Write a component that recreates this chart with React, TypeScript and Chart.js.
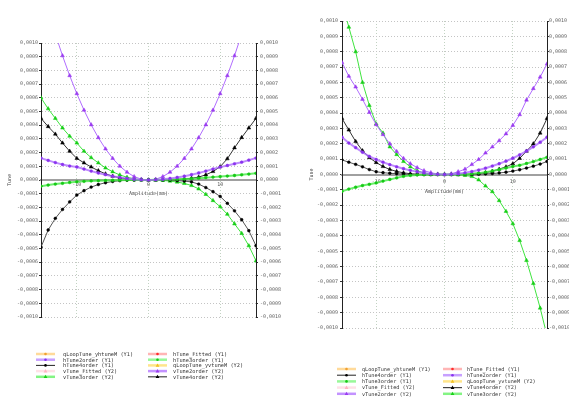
import React, { useEffect, useRef } from 'react';
import { Chart, registerables } from 'chart.js';

Chart.register(...registerables);

// ---------- data ----------
const amplitude = [-15, -14, -13, -12, -11, -10, -9, -8, -7, -6, -5, -4, -3, -2, -1, 0, 1, 2, 3, 4, 5, 6, 7, 8, 9, 10, 11, 12, 13, 14, 15];
const xTickValues = [-10, 0, 10];

// left panel
const leftHTune2order = [0.16e-3, 0.143e-3, 0.127e-3, 0.113e-3, 0.102e-3, 0.095e-3, 0.08e-3, 0.065e-3, 0.051e-3, 0.039e-3, 0.028e-3, 0.019e-3, 0.011e-3, 0.005e-3, 0.001e-3, 0, 0.001e-3, 0.005e-3, 0.011e-3, 0.019e-3, 0.028e-3, 0.039e-3, 0.051e-3, 0.065e-3, 0.08e-3, 0.094e-3, 0.106e-3, 0.118e-3, 0.13e-3, 0.145e-3, 0.16e-3];
const leftHTune3order = [-0.045e-3, -0.037e-3, -0.03e-3, -0.024e-3, -0.018e-3, -0.013e-3, -0.01e-3, -0.007e-3, -0.005e-3, -0.003e-3, -0.002e-3, -0.001e-3, 0, 0, 0, 0, 0.001e-3, 0.002e-3, 0.003e-3, 0.005e-3, 0.007e-3, 0.01e-3, 0.013e-3, 0.017e-3, 0.021e-3, 0.025e-3, 0.029e-3, 0.033e-3, 0.038e-3, 0.043e-3, 0.049e-3];
const leftHTune4order = [-0.49e-3, -0.365e-3, -0.28e-3, -0.215e-3, -0.16e-3, -0.11e-3, -0.078e-3, -0.052e-3, -0.033e-3, -0.02e-3, -0.011e-3, -0.005e-3, -0.002e-3, -0.001e-3, 0, 0, 0, 0, -0.002e-3, -0.005e-3, -0.008e-3, -0.014e-3, -0.03e-3, -0.055e-3, -0.085e-3, -0.12e-3, -0.17e-3, -0.225e-3, -0.29e-3, -0.37e-3, -0.48e-3];
const leftVTune2order = [1.418e-3, 1.235e-3, 1.065e-3, 0.907e-3, 0.762e-3, 0.63e-3, 0.51e-3, 0.403e-3, 0.309e-3, 0.227e-3, 0.158e-3, 0.101e-3, 0.057e-3, 0.025e-3, 0.006e-3, 0, 0.006e-3, 0.025e-3, 0.057e-3, 0.101e-3, 0.158e-3, 0.227e-3, 0.309e-3, 0.403e-3, 0.51e-3, 0.63e-3, 0.762e-3, 0.907e-3, 1.065e-3, 1.235e-3, 1.418e-3];
const leftVTune3order = [0.6e-3, 0.52e-3, 0.45e-3, 0.38e-3, 0.32e-3, 0.27e-3, 0.21e-3, 0.163e-3, 0.125e-3, 0.088e-3, 0.06e-3, 0.037e-3, 0.02e-3, 0.009e-3, 0.002e-3, 0, -0.001e-3, -0.003e-3, -0.008e-3, -0.015e-3, -0.025e-3, -0.04e-3, -0.065e-3, -0.105e-3, -0.15e-3, -0.195e-3, -0.25e-3, -0.32e-3, -0.39e-3, -0.48e-3, -0.59e-3];
const leftVTune4order = [0.45e-3, 0.39e-3, 0.335e-3, 0.27e-3, 0.21e-3, 0.158e-3, 0.125e-3, 0.095e-3, 0.068e-3, 0.045e-3, 0.028e-3, 0.016e-3, 0.008e-3, 0.003e-3, 0.001e-3, 0, 0, 0.001e-3, 0.002e-3, 0.004e-3, 0.008e-3, 0.013e-3, 0.021e-3, 0.038e-3, 0.062e-3, 0.097e-3, 0.155e-3, 0.235e-3, 0.31e-3, 0.38e-3, 0.45e-3];

// right panel
const rightHTune2order = [0.243e-3, 0.205e-3, 0.175e-3, 0.145e-3, 0.118e-3, 0.098e-3, 0.08e-3, 0.064e-3, 0.05e-3, 0.038e-3, 0.027e-3, 0.018e-3, 0.01e-3, 0.004e-3, 0.001e-3, 0, 0.001e-3, 0.005e-3, 0.011e-3, 0.019e-3, 0.029e-3, 0.041e-3, 0.055e-3, 0.07e-3, 0.087e-3, 0.106e-3, 0.128e-3, 0.153e-3, 0.18e-3, 0.21e-3, 0.243e-3];
const rightHTune3order = [-0.11e-3, -0.095e-3, -0.083e-3, -0.072e-3, -0.064e-3, -0.055e-3, -0.043e-3, -0.032e-3, -0.022e-3, -0.012e-3, -0.006e-3, -0.003e-3, -0.001e-3, 0, 0, 0, 0, 0.001e-3, 0.002e-3, 0.005e-3, 0.009e-3, 0.015e-3, 0.023e-3, 0.032e-3, 0.042e-3, 0.052e-3, 0.06e-3, 0.072e-3, 0.084e-3, 0.098e-3, 0.112e-3];
const rightHTune4order = [0.095e-3, 0.08e-3, 0.066e-3, 0.05e-3, 0.032e-3, 0.018e-3, 0.012e-3, 0.008e-3, 0.005e-3, 0.003e-3, 0.001e-3, 0, 0, 0, 0, 0, 0, 0, 0, 0.001e-3, 0.002e-3, 0.004e-3, 0.006e-3, 0.01e-3, 0.015e-3, 0.022e-3, 0.031e-3, 0.042e-3, 0.054e-3, 0.068e-3, 0.085e-3];
const rightVTune2order = [0.73e-3, 0.64e-3, 0.57e-3, 0.49e-3, 0.405e-3, 0.325e-3, 0.26e-3, 0.2e-3, 0.15e-3, 0.105e-3, 0.07e-3, 0.045e-3, 0.025e-3, 0.012e-3, 0.003e-3, 0, 0.005e-3, 0.018e-3, 0.035e-3, 0.065e-3, 0.098e-3, 0.14e-3, 0.18e-3, 0.22e-3, 0.265e-3, 0.32e-3, 0.39e-3, 0.485e-3, 0.56e-3, 0.635e-3, 0.72e-3];
const rightVTune3order = [1.12e-3, 0.96e-3, 0.8e-3, 0.6e-3, 0.45e-3, 0.33e-3, 0.27e-3, 0.18e-3, 0.13e-3, 0.085e-3, 0.05e-3, 0.025e-3, 0.01e-3, 0.003e-3, 0.001e-3, 0, 0, -0.002e-3, -0.006e-3, -0.013e-3, -0.035e-3, -0.075e-3, -0.112e-3, -0.17e-3, -0.24e-3, -0.32e-3, -0.43e-3, -0.56e-3, -0.71e-3, -0.87e-3, -1.05e-3];
const rightVTune4order = [0.365e-3, 0.29e-3, 0.215e-3, 0.155e-3, 0.11e-3, 0.078e-3, 0.052e-3, 0.033e-3, 0.02e-3, 0.011e-3, 0.005e-3, 0.002e-3, 0.001e-3, 0, 0, 0, 0, 0, 0.001e-3, 0.003e-3, 0.006e-3, 0.012e-3, 0.021e-3, 0.035e-3, 0.05e-3, 0.07e-3, 0.105e-3, 0.152e-3, 0.2e-3, 0.27e-3, 0.365e-3];

const seriesNames = [
  'qLoopTune_yhtuneM (Y1)', 'hTune_Fitted (Y1)', 'hTune2order (Y1)', 'hTune3order (Y1)', 'hTune4order (Y1)',
  'qLoopTune_yvtuneM (Y2)', 'vTune_Fitted (Y2)', 'vTune2order (Y2)', 'vTune3order (Y2)', 'vTune4order (Y2)',
];

const leftLegendColumns = [
  ['qLoopTune_yhtuneM (Y1)', 'hTune2order (Y1)', 'hTune4order (Y1)', 'vTune_Fitted (Y2)', 'vTune3order (Y2)'],
  ['hTune_Fitted (Y1)', 'hTune3order (Y1)', 'qLoopTune_yvtuneM (Y2)', 'vTune2order (Y2)', 'vTune4order (Y2)'],
];
const rightLegendColumns = [
  ['qLoopTune_yhtuneM (Y1)', 'hTune4order (Y1)', 'hTune3order (Y1)', 'vTune_Fitted (Y2)', 'vTune2order (Y2)'],
  ['hTune_Fitted (Y1)', 'hTune2order (Y1)', 'qLoopTune_yvtuneM (Y2)', 'vTune4order (Y2)', 'vTune3order (Y2)'],
];

// ---------- styles ----------
const MONO = '"DejaVu Sans Mono", monospace';
type Style = { line: string; width: number; marker: 'circle' | 'triangle'; color: string; radius: number; axis: 'y' | 'y2'; legLine: string; legWidth: number };
const STYLES: Record<string, Style> = {
  'qLoopTune_yhtuneM (Y1)': { line: 'rgba(255,200,110,0.7)', width: 2, marker: 'circle', color: '#f0a030', radius: 1.3, axis: 'y', legLine: 'rgba(255,205,120,0.75)', legWidth: 2.5 },
  'hTune_Fitted (Y1)': { line: 'rgba(255,140,140,0.6)', width: 2, marker: 'circle', color: '#ff2a2a', radius: 1.3, axis: 'y', legLine: 'rgba(255,150,150,0.7)', legWidth: 2.5 },
  'hTune2order (Y1)': { line: 'rgba(170,100,255,0.75)', width: 2, marker: 'circle', color: '#8a32ee', radius: 1.4, axis: 'y', legLine: 'rgba(175,120,255,0.7)', legWidth: 2.5 },
  'hTune3order (Y1)': { line: 'rgba(70,235,70,0.8)', width: 2, marker: 'circle', color: '#16c816', radius: 1.4, axis: 'y', legLine: 'rgba(110,245,110,0.7)', legWidth: 2.5 },
  'hTune4order (Y1)': { line: '#555555', width: 1, marker: 'circle', color: '#000000', radius: 1.4, axis: 'y', legLine: '#222222', legWidth: 1 },
  'qLoopTune_yvtuneM (Y2)': { line: 'rgba(255,215,80,0.7)', width: 2, marker: 'triangle', color: '#f0c020', radius: 2.2, axis: 'y2', legLine: 'rgba(255,220,100,0.75)', legWidth: 2.5 },
  'vTune_Fitted (Y2)': { line: 'rgba(255,200,210,0.5)', width: 2, marker: 'triangle', color: '#ffb4c4', radius: 2.2, axis: 'y2', legLine: 'rgba(255,205,215,0.6)', legWidth: 2.5 },
  'vTune2order (Y2)': { line: '#b06cff', width: 1, marker: 'triangle', color: '#9a3cf0', radius: 2.2, axis: 'y2', legLine: 'rgba(175,110,255,0.75)', legWidth: 2.5 },
  'vTune3order (Y2)': { line: '#3fe43f', width: 1, marker: 'triangle', color: '#17cf17', radius: 2.2, axis: 'y2', legLine: 'rgba(90,240,90,0.75)', legWidth: 2.5 },
  'vTune4order (Y2)': { line: '#333333', width: 1, marker: 'triangle', color: '#000000', radius: 2.2, axis: 'y2', legLine: '#444444', legWidth: 1.2 },
};

type Spec = {
  left: number; top: number; width: number; height: number;
  padTop: number; padBottom: number; leftW: number; rightW: number;
  yTitlePad: number; yTickPadL: number; yTickPadR: number;
  xTickPad: number; xTitlePad: number;
  legendTop: number; legendGap: number; colLineX: number[]; colTextX: number[]; legendFont: number;
  columns: string[][];
  values: Record<string, number[]>;
};

const leftSpec: Spec = {
  left: 0, top: 30, width: 290, height: 360,
  padTop: 13, padBottom: 73, leftW: 41, rightW: 34,
  yTitlePad: 7, yTickPadL: 1, yTickPadR: 2, xTickPad: 2, xTitlePad: 1,
  legendTop: 324, legendGap: 5.7, colLineX: [36, 148], colTextX: [63, 173], legendFont: 5.3,
  columns: leftLegendColumns,
  values: {
    'hTune2order (Y1)': leftHTune2order, 'hTune3order (Y1)': leftHTune3order, 'hTune4order (Y1)': leftHTune4order,
    'vTune2order (Y2)': leftVTune2order, 'vTune3order (Y2)': leftVTune3order, 'vTune4order (Y2)': leftVTune4order,
  },
};

const rightSpec: Spec = {
  left: 290, top: 0, width: 279, height: 401,
  padTop: 21, padBottom: 73, leftW: 52, rightW: 22,
  yTitlePad: 19, yTickPadL: 2, yTickPadR: 0, xTickPad: 4, xTitlePad: 0,
  legendTop: 369, legendGap: 6.2, colLineX: [47, 153], colTextX: [72, 177], legendFont: 5.2,
  columns: rightLegendColumns,
  values: {
    'hTune2order (Y1)': rightHTune2order, 'hTune3order (Y1)': rightHTune3order, 'hTune4order (Y1)': rightHTune4order,
    'vTune2order (Y2)': rightVTune2order, 'vTune3order (Y2)': rightVTune3order, 'vTune4order (Y2)': rightVTune4order,
  },
};

const fmtTune = (v: any) => {
  const n = Number(v);
  if (Math.abs(n) < 1e-9) return '0,0000';
  return n.toFixed(4).replace('.', ',');
};

function drawMarker(ctx: CanvasRenderingContext2D, kind: string, x: number, y: number, r: number) {
  ctx.beginPath();
  if (kind === 'triangle') {
    ctx.moveTo(x, y - r);
    ctx.lineTo(x + r * 0.95, y + r * 0.5 + 0.3);
    ctx.lineTo(x - r * 0.95, y + r * 0.5 + 0.3);
    ctx.closePath();
  } else {
    ctx.arc(x, y, r, 0, Math.PI * 2);
  }
  ctx.fill();
}

const pairLegend = {
  id: 'pairLegend',
  afterDraw(chart: any, _args: any, opts: any) {
    const ctx: CanvasRenderingContext2D = chart.ctx;
    ctx.save();
    ctx.font = `${opts.font}px ${MONO}`;
    ctx.textBaseline = 'middle';
    ctx.textAlign = 'left';
    (opts.columns as string[][]).forEach((col, ci) => {
      col.forEach((label, ri) => {
        const st = STYLES[label];
        const y = opts.top + ri * opts.gap;
        const x0 = opts.lineX[ci];
        ctx.strokeStyle = st.legLine;
        ctx.lineWidth = st.legWidth;
        ctx.beginPath();
        ctx.moveTo(x0, y);
        ctx.lineTo(x0 + 19, y);
        ctx.stroke();
        ctx.fillStyle = st.color;
        drawMarker(ctx, st.marker, x0 + 9.5, y, st.marker === 'triangle' ? 2 : 1.3);
        ctx.fillStyle = '#333';
        ctx.fillText(label, opts.textX[ci], y + 0.5);
      });
    });
    ctx.restore();
  },
};

function buildConfig(spec: Spec): any {
  const tickFont = { family: MONO, size: 5 };
  const datasets = seriesNames.map((name) => {
    const st = STYLES[name];
    const vals = spec.values[name] || [];
    return {
      label: name,
      data: vals.map((v, i) => ({ x: amplitude[i], y: v })),
      yAxisID: st.axis,
      borderColor: st.line,
      borderWidth: st.width,
      pointStyle: st.marker,
      pointRadius: st.radius,
      pointBackgroundColor: st.color,
      pointBorderColor: st.color,
      pointBorderWidth: 0.5,
      tension: 0,
      fill: false,
    };
  });
  return {
    type: 'line',
    data: { datasets },
    plugins: [pairLegend],
    options: {
      animation: false,
      responsive: false,
      devicePixelRatio: 1,
      layout: { padding: { left: 0, right: 0, top: spec.padTop, bottom: spec.padBottom } },
      plugins: {
        legend: { display: false },
        tooltip: { enabled: false },
        pairLegend: {
          columns: spec.columns, top: spec.legendTop, gap: spec.legendGap,
          lineX: spec.colLineX, textX: spec.colTextX, font: spec.legendFont,
        },
      },
      scales: {
        x: {
          type: 'linear', min: -15, max: 15,
          position: { y: 0 },
          afterBuildTicks: (s: any) => { s.ticks = xTickValues.map((v) => ({ value: v })); },
          ticks: { font: tickFont, color: '#555', padding: spec.xTickPad, maxRotation: 0, autoSkip: false, callback: (v: any) => String(v) },
          grid: { color: '#c2d2c2', drawTicks: false, lineWidth: 1 },
          border: { color: '#a0a0a0', width: 2, dash: [1, 2] },
          title: { display: true, text: 'Amplitude(mm)', font: tickFont, color: '#444', padding: { top: spec.xTitlePad, bottom: 0 } },
        },
        y: {
          type: 'linear', position: 'left', min: -0.001, max: 0.001,
          afterFit: (s: any) => { s.width = spec.leftW; },
          ticks: { stepSize: 0.0001, autoSkip: false, font: tickFont, color: '#666', padding: spec.yTickPadL, callback: fmtTune },
          grid: { color: '#c4c4c4', tickLength: 2, tickColor: '#333', lineWidth: 1 },
          border: { color: '#222', width: 1, dash: [1, 2] },
          title: { display: true, text: 'Tune', font: tickFont, color: '#444', padding: { top: spec.yTitlePad, bottom: 0 } },
        },
        y2: {
          type: 'linear', position: 'right', min: -0.001, max: 0.001,
          afterFit: (s: any) => { s.width = spec.rightW; },
          ticks: { stepSize: 0.0001, autoSkip: false, font: tickFont, color: '#666', padding: spec.yTickPadR, callback: fmtTune },
          grid: { drawOnChartArea: false, tickLength: 2, tickColor: '#333' },
          border: { color: '#222', width: 1 },
        },
      },
    },
  };
}

function Panel({ spec }: { spec: Spec }) {
  const ref = useRef<HTMLCanvasElement>(null);
  useEffect(() => {
    const chart = new Chart(ref.current as HTMLCanvasElement, buildConfig(spec));
    return () => chart.destroy();
  }, [spec]);
  return (
    <canvas
      ref={ref}
      width={spec.width}
      height={spec.height}
      style={{ position: 'absolute', left: spec.left, top: spec.top, width: spec.width, height: spec.height }}
    />
  );
}

export default function App() {
  return (
    <div style={{ position: 'fixed', left: 0, top: 0, width: 569, height: 401, overflow: 'hidden', background: '#fff' }}>
      <Panel spec={leftSpec} />
      <Panel spec={rightSpec} />
    </div>
  );
}
